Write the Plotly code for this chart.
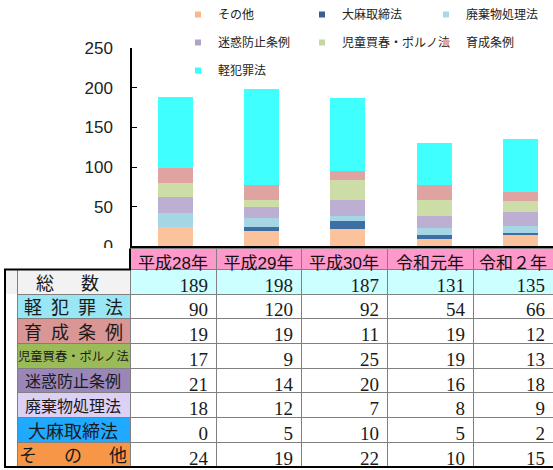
import plotly.graph_objects as go

W, H = 553, 470

years = ["平成28年", "平成29年", "平成30年", "令和元年", "令和２年"]
totals = [189, 198, 187, 131, 135]

# series (bottom -> top of the stack)
series_names = ["その他", "大麻取締法", "廃棄物処理法", "迷惑防止条例", "児童買春・ポルノ法", "育成条例", "軽犯罪法"]
sonota = [24, 19, 22, 10, 15]
taima = [0, 5, 10, 5, 2]
haikibutsu = [18, 12, 7, 8, 9]
meiwaku = [21, 14, 20, 16, 18]
jido = [17, 9, 25, 19, 13]
ikusei = [19, 19, 11, 19, 12]
keihanzai = [90, 120, 92, 54, 66]
series_values = [sonota, taima, haikibutsu, meiwaku, jido, ikusei, keihanzai]

bar_colors = ["#FBC39C", "#3D6FA6", "#A6D6E3", "#BCAFD2", "#CCDDA8", "#DFA3A1", "#3FFFFF"]
legend_colors = ["#F9B98A", "#366092", "#A9D8E6", "#B3A3C9", "#C4D79E", "#E6A3A3", "#33FFFF"]
legend_column = [1, 2, 3, 1, 2, 3, 1]

# table rows (top -> bottom)
table_labels = ["総\u3000\u2002数", "軽\u2002犯\u2002罪\u2002法", "育\u2002成\u2002条\u2002例",
                "児童買春・ポルノ法", "迷惑防止条例", "廃棄物処理法", "大麻取締法", "そ\u3000\u2002の\u3000\u2002他"]
table_label_fill = ["#F2F2F2", "#99E6F5", "#D99694", "#9BBB59", "#9B86B8", "#DCD0F5", "#1FAAFF", "#F79646"]
table_label_size = [18, 18, 18, 12.3, 16, 16, 18, 18]
table_rows = [totals, keihanzai, ikusei, jido, meiwaku, haikibutsu, taima, sonota]

fig = go.Figure()

for name, vals, col in zip(series_names, series_values, bar_colors):
    fig.add_trace(go.Bar(x=years, y=vals, name=name, marker=dict(color=col, line=dict(width=0)),
                         showlegend=False, xaxis="x", yaxis="y"))

for k, (name, col, lc) in enumerate(zip(series_names, legend_colors, legend_column)):
    fig.add_trace(go.Scatter(x=[None], y=[None], mode="markers", name=name,
                             legend="legend" if lc == 1 else f"legend{lc}", legendgroup=f"g{k}",
                             marker=dict(symbol="square", size=6, color=col),
                             xaxis="x", yaxis="y"))

# table
TABLE_TOP, HEADER_H, ROW_H = 248, 21, 24.7
ncol_rows = len(table_rows)
col_values = [[""] * ncol_rows, [""] * ncol_rows]
for j in range(len(years)):
    col_values.append([str(r[j]) for r in table_rows])

fill_colors = [["#F2F2F2"] + ["white"] * (ncol_rows - 1), table_label_fill]
line_colors = [["#F2F2F2"] + ["white"] * (ncol_rows - 1), ["#808080"] * ncol_rows]
for j in range(len(years)):
    fill_colors.append(["#CCFFFF"] + ["white"] * (ncol_rows - 1))
    line_colors.append(["#808080"] * ncol_rows)

fig.add_trace(go.Table(
    domain=dict(x=[5 / W, 1], y=[0, 1 - TABLE_TOP / H]),
    columnwidth=[12, 113, 86, 85, 86, 86, 80],
    header=dict(values=["", ""] + years,
                fill=dict(color=["white", "white"] + ["#FF99CC"] * len(years)),
                line=dict(color=["white", "white"] + ["#808080"] * len(years), width=1),
                font=dict(family="Liberation Sans, Noto Sans CJK JP", size=17, color="#111111"),
                align="center", height=HEADER_H),
    cells=dict(values=col_values,
               fill=dict(color=fill_colors),
               line=dict(color=line_colors, width=1),
               font=dict(family="Liberation Serif", size=19, color="#1a1a1a"),
               align=["center", "center"] + ["right"] * len(years),
               height=ROW_H),
))

# row labels of the table (text)
for i, (lab, sz) in enumerate(zip(table_labels, table_label_size)):
    yc = TABLE_TOP + HEADER_H + ROW_H * (i + 0.5)
    xc = 67.5 if i == 0 else 73.5
    fig.add_annotation(x=xc / W, y=1 - yc / H, xref="paper", yref="paper", text=lab, showarrow=False,
                       xanchor="center", yanchor="middle", borderpad=0,
                       font=dict(family="Noto Sans CJK JP", size=sz, color="#1a1a1a"))

leg_common = dict(orientation="v", yanchor="top", xanchor="left", bgcolor="rgba(0,0,0,0)",
                  font=dict(size=12, family="Noto Sans CJK JP", color="#222222"),
                  traceorder="grouped", tracegroupgap=9, itemclick=False, y=1 + 1 / H)

fig.update_layout(
    width=W, height=H,
    margin=dict(l=0, r=0, t=0, b=0),
    paper_bgcolor="white", plot_bgcolor="white",
    barmode="stack", bargap=0.595,
    font=dict(family="Liberation Sans, Noto Sans CJK JP", color="#222222"),
    xaxis=dict(domain=[132 / W, 1], range=[-0.5, 4.373], showticklabels=False, ticks="",
               showline=True, linecolor="black", linewidth=2, showgrid=False, zeroline=False),
    yaxis=dict(domain=[1 - 246 / H, 1 - 47.3 / H], range=[0, 250], tickvals=[0, 50, 100, 150, 200, 250],
               ticks="inside", ticklen=5, tickcolor="black", showline=True, linecolor="black", linewidth=1.5,
               showgrid=False, zeroline=False, tickfont=dict(size=17, family="Liberation Sans", color="#222222"),
               ticklabelstandoff=14, automargin=False),
    showlegend=True,
    legend=dict(x=178 / W, **leg_common),
    legend2=dict(x=302 / W, **leg_common),
    legend3=dict(x=426 / W, **leg_common),
)

# outer frame of the table (decoration)
fx0, fy_top, fy_bot, fxl = 5 / W, 1 - 269 / H, 1 - 467 / H, 130 / W
fig.add_shape(type="path", xref="paper", yref="paper",
              path=f"M {fxl},{1 - 248 / H} L {fxl},{fy_top} L {fx0},{fy_top} L {fx0},{fy_bot} L 1.01,{fy_bot}",
              line=dict(color="black", width=2))

fig.write_html("out.html", config={"displayModeBar": False},
               post_script="document.body.style.margin='0px';")
